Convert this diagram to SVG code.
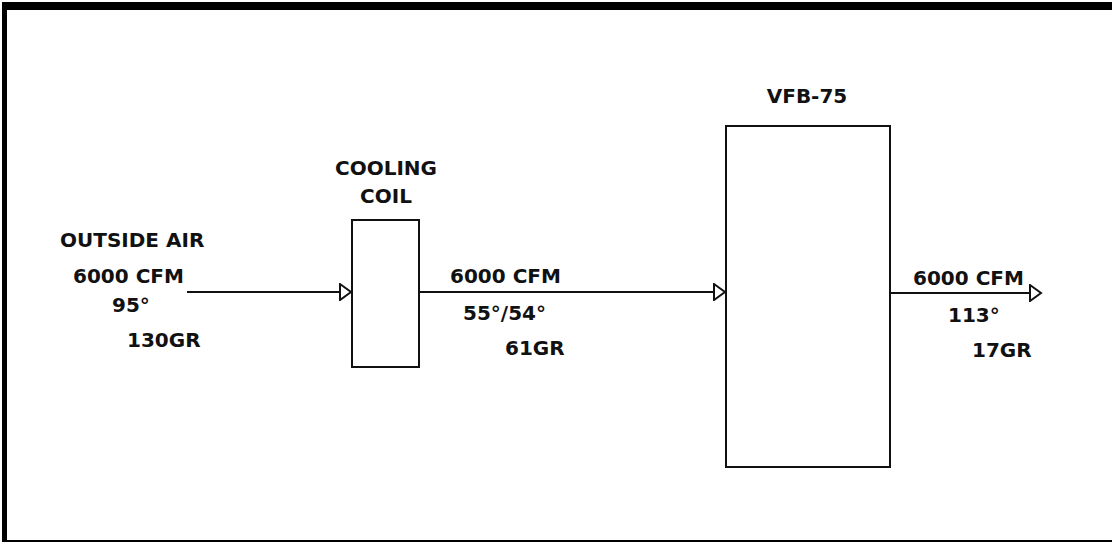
<svg xmlns="http://www.w3.org/2000/svg" width="1112" height="543" viewBox="0 0 1112 543">
<style>
.t{font-family:"DejaVu Sans","Liberation Sans",sans-serif;font-weight:bold;font-size:20px;fill:#111}
.box{fill:#fff;stroke:#111;stroke-width:2}
.ln{stroke:#111;stroke-width:2;fill:none}
</style>
<defs>
<marker id="ah" markerWidth="14" markerHeight="18" refX="12" refY="9" orient="auto" markerUnits="userSpaceOnUse">
<path d="M1,1 L12,9 L1,17 Z" fill="#fff" stroke="#111" stroke-width="2"/>
</marker>
</defs>
<rect x="0" y="0" width="1112" height="543" fill="#fff"/>
<g id="frame">
<rect x="2" y="2" width="1110" height="8" fill="#000"/>
<rect x="2" y="2" width="5" height="540" fill="#000"/>
<rect x="2" y="540" width="1110" height="2" fill="#000"/>
</g>
<g id="connectors">
<line class="ln" x1="187" y1="292" x2="351" y2="292" marker-end="url(#ah)"/>
<line class="ln" x1="419" y1="292" x2="725" y2="292" marker-end="url(#ah)"/>
<line class="ln" x1="890" y1="293" x2="1041" y2="293" marker-end="url(#ah)"/>
</g>
<g id="outside-air">
<text class="t" x="60" y="247">OUTSIDE AIR</text>
<text class="t" x="73" y="283">6000 CFM</text>
<text class="t" x="112" y="312">95°</text>
<text class="t" x="127" y="347">130GR</text>
</g>
<g id="cooling-coil">
<text class="t" x="386" y="175" text-anchor="middle">COOLING</text>
<text class="t" x="386" y="203" text-anchor="middle">COIL</text>
<rect class="box" x="352" y="220" width="67" height="147"/>
</g>
<g id="coil-out">
<text class="t" x="450" y="283">6000 CFM</text>
<text class="t" x="463" y="320">55°/54°</text>
<text class="t" x="505" y="355">61GR</text>
</g>
<g id="vfb-75">
<text class="t" x="807" y="103" text-anchor="middle">VFB-75</text>
<rect class="box" x="726" y="126" width="164" height="341"/>
</g>
<g id="supply">
<text class="t" x="913" y="285">6000 CFM</text>
<text class="t" x="948" y="322">113°</text>
<text class="t" x="972" y="357">17GR</text>
</g>
</svg>
